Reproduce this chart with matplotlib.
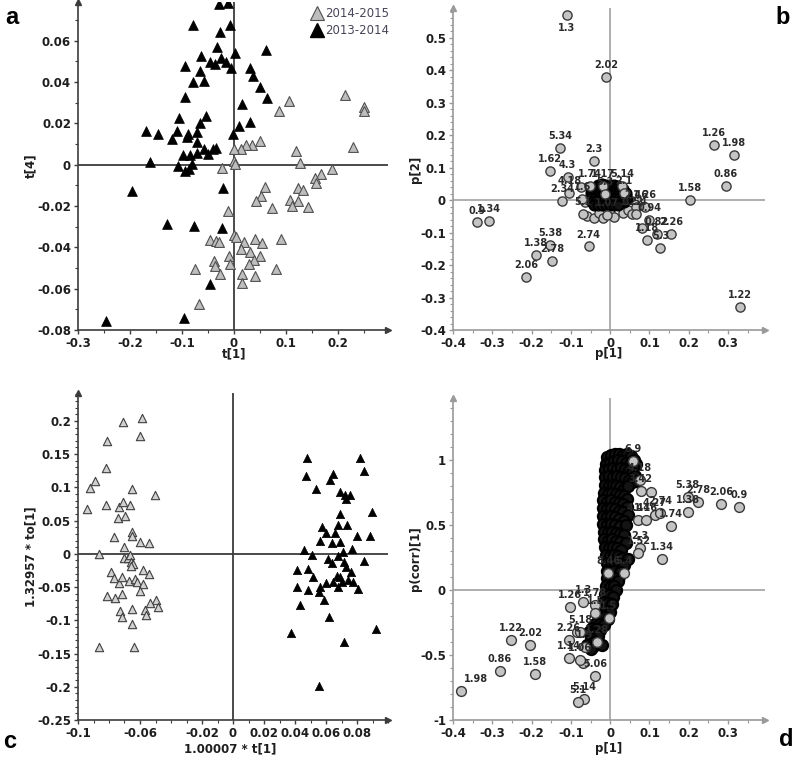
import numpy as np
import matplotlib.pyplot as plt
from matplotlib.ticker import MultipleLocator
from matplotlib.lines import Line2D

W, H = 795, 757

# ---------------- panel a : t[1] vs t[4] scores ----------------
a_black = [(-0.0287, 0.0777), (-0.0108, 0.0782), (-0.0798, 0.0676), (-0.0262, 0.0640),
           (-0.0070, 0.0676), (-0.0325, 0.0571), (-0.0644, 0.0528), (-0.0242, 0.0515),
           (-0.0453, 0.0499), (-0.0370, 0.0488), (-0.0147, 0.0496), (0.0013, 0.0541),
           (-0.0064, 0.0468), (0.0619, 0.0555), (-0.0938, 0.0475), (-0.0657, 0.0451),
           (-0.0568, 0.0407), (-0.0798, 0.0399), (0.0313, 0.0467), (0.0364, 0.0431),
           (0.0491, 0.0375), (0.0632, 0.0322), (-0.0938, 0.0327), (0.0153, 0.0294),
           (-0.1059, 0.0225), (-0.0542, 0.0235), (-0.0657, 0.0203), (0.0089, 0.0185),
           (0.0313, 0.0206), (-0.1697, 0.0163), (-0.1461, 0.0148), (-0.1104, 0.0161),
           (-0.1193, 0.0124), (-0.0880, 0.0150), (-0.0900, 0.0134), (-0.0708, 0.0158),
           (-0.0721, 0.0109), (-0.0568, 0.0074), (-0.0402, 0.0077), (-0.0504, 0.0053),
           (-0.0351, 0.0080), (-0.0019, 0.0146), (-0.0989, 0.0045), (-0.0849, 0.0045),
           (-0.0721, 0.0056), (-0.1608, 0.0013), (-0.1085, -0.0008), (-0.0944, -0.0032),
           (-0.0861, -0.0019), (-0.0817, 0.0002), (-0.1971, -0.0129), (-0.0211, -0.0111),
           (-0.1282, -0.0286), (-0.0766, -0.0296), (-0.0230, -0.0306), (-0.0459, -0.0576),
           (-0.2469, -0.0755), (-0.0970, -0.0743)]
a_gray = [(0.2131, 0.0338), (0.2495, 0.0278), (0.2495, 0.0262), (0.1065, 0.0306),
          (0.0861, 0.0261), (0.2278, 0.0084), (0.0491, 0.0113), (0.0345, 0.0093),
          (0.0236, 0.0093), (0.0134, 0.0077), (0.0000, 0.0077), (0.1187, 0.0064),
          (0.1276, 0.0010), (0.0000, 0.0018), (0.0019, 0.0002), (-0.0223, -0.0016),
          (0.1882, -0.0023), (0.1672, -0.0043), (0.1557, -0.0063), (0.1582, -0.0088),
          (0.0593, -0.0108), (0.1225, -0.0111), (0.1333, -0.0121), (0.0517, -0.0151),
          (0.0421, -0.0174), (0.1085, -0.0172), (0.1238, -0.0175), (0.1117, -0.0200),
          (0.1416, -0.0204), (0.0727, -0.0208), (-0.0108, -0.0222), (0.0000, -0.0338),
          (0.0045, -0.0348), (-0.0453, -0.0365), (-0.0351, -0.0370), (-0.0293, -0.0375),
          (0.0185, -0.0373), (0.0408, -0.0360), (0.0542, -0.0381), (0.0906, -0.0360),
          (0.0128, -0.0409), (0.0300, -0.0422), (0.0491, -0.0442), (-0.0096, -0.0442),
          (-0.0383, -0.0465), (0.0376, -0.0463), (0.0281, -0.0481), (-0.0070, -0.0481),
          (-0.0370, -0.0491), (-0.0759, -0.0504), (-0.0274, -0.0528), (0.0798, -0.0505),
          (0.0153, -0.0528), (0.0402, -0.0539), (0.0153, -0.0571), (-0.0670, -0.0676)]
a_xticks = [-0.3, -0.2, -0.1, 0, 0.1, 0.2]
a_xlabels = ['-0.3', '-0.2', '-0.1', '0', '0.1', '0.2']
a_yticks = [-0.08, -0.06, -0.04, -0.02, 0, 0.02, 0.04, 0.06]
a_ylabels = ['-0.08', '-0.06', '-0.04', '-0.02', '0', '0.02', '0.04', '0.06']

# ---------------- panel b : p[1] vs p[2] loadings ----------------
b_labeled = [(-0.110, 0.568, '1.3'), (-0.011, 0.380, '2.02'), (-0.127, 0.160, '5.34'),
             (-0.0415, 0.119, '2.3'), (-0.153, 0.089, '1.62'), (-0.108, 0.072, '4.3'),
             (-0.104, 0.0205, '4.18'), (-0.123, -0.004, '2.34'), (0.264, 0.170, '1.26'),
             (0.314, 0.139, '1.98'), (0.294, 0.044, '0.86'), (0.2025, -0.001, '1.58'),
             (-0.339, -0.069, '0.9'), (-0.308, -0.063, '1.34'), (-0.152, -0.137, '5.38'),
             (-0.189, -0.168, '1.38'), (-0.148, -0.187, '2.78'), (-0.2136, -0.237, '2.06'),
             (-0.055, -0.143, '2.74'), (0.331, -0.329, '1.22'),
             (-0.051, 0.043, '1.74'), (-0.018, 0.043, '1.17'), (0.0305, 0.043, '5.14'),
             (0.036, 0.0215, '2.1'), (-0.0127, 0.0185, '5.3'), (-0.071, 0.003, '1.6'),
             (-0.0687, -0.043, '5.1'), (-0.0076, -0.046, '1.07'), (0.066, -0.0215, '2.46'),
             (0.089, -0.0215, '1.26'), (0.056, -0.043, '1.22'), (0.065, -0.043, '1.54'),
             (0.100, -0.062, '0.94'), (0.118, -0.105, '0.82'), (0.155, -0.105, '2.26'),
             (0.093, -0.123, '1.18'), (0.128, -0.148, '5.3')]
b_plain = [(-0.059, -0.048), (-0.042, -0.056), (-0.028, -0.041), (-0.017, -0.056),
           (0.000, -0.041), (0.010, -0.053), (0.032, -0.041), (-0.064, -0.005),
           (0.081, -0.085), (0.045, -0.030), (-0.075, 0.041)]
b_blob = [(-0.03, 0.045), (-0.02, 0.048), (-0.01, 0.046), (0.0, 0.047), (0.01, 0.045), (0.02, 0.044),
          (-0.045, 0.035), (-0.035, 0.036), (-0.025, 0.035), (-0.015, 0.036), (-0.005, 0.035),
          (0.005, 0.036), (0.015, 0.035), (0.025, 0.034), (0.033, 0.033),
          (-0.05, 0.025), (-0.04, 0.026), (-0.03, 0.025), (-0.02, 0.026), (-0.01, 0.025),
          (0.0, 0.026), (0.01, 0.025), (0.02, 0.026), (0.03, 0.024), (0.04, 0.023),
          (-0.05, 0.015), (-0.04, 0.016), (-0.03, 0.015), (-0.02, 0.016), (-0.01, 0.015),
          (0.0, 0.016), (0.01, 0.015), (0.02, 0.016), (0.03, 0.015), (0.04, 0.014),
          (-0.048, 0.005), (-0.038, 0.006), (-0.028, 0.005), (-0.018, 0.006), (-0.008, 0.005),
          (0.002, 0.006), (0.012, 0.005), (0.022, 0.006), (0.032, 0.005), (0.042, 0.004),
          (-0.045, -0.005), (-0.035, -0.004), (-0.025, -0.005), (-0.015, -0.004), (-0.005, -0.005),
          (0.005, -0.004), (0.015, -0.005), (0.025, -0.004), (0.035, -0.006),
          (-0.04, -0.015), (-0.03, -0.014), (-0.02, -0.016), (-0.01, -0.015), (0.0, -0.016),
          (0.01, -0.015), (0.02, -0.014)]
b_xticks = [-0.4, -0.3, -0.2, -0.1, 0, 0.1, 0.2, 0.3]
b_xlabels = ['-0.4', '-0.3', '-0.2', '-0.1', '0', '0.1', '0.2', '0.3']
b_yticks = [-0.4, -0.3, -0.2, -0.1, 0, 0.1, 0.2, 0.3, 0.4, 0.5]
b_ylabels = ['-0.4', '-0.3', '-0.2', '-0.1', '0', '0.1', '0.2', '0.3', '0.4', '0.5']

# ---------------- panel c : OPLS-DA scores ----------------
c_gray = [(-0.0708, 0.199), (-0.0586, 0.205), (-0.0597, 0.177), (-0.0811, 0.170),
          (-0.0822, 0.129), (-0.0891, 0.109), (-0.0923, 0.099), (-0.0650, 0.098),
          (-0.0504, 0.088), (-0.0940, 0.068), (-0.0822, 0.074), (-0.0736, 0.071),
          (-0.0708, 0.078), (-0.0667, 0.073), (-0.0740, 0.054), (-0.0697, 0.057),
          (-0.0768, 0.025), (-0.0650, 0.033), (-0.0650, 0.027), (-0.0539, 0.016),
          (-0.0597, 0.018), (-0.0865, -0.0005), (-0.0702, 0.0096), (-0.0702, -0.0065),
          (-0.0676, -0.0065), (-0.0663, -0.0015), (-0.0659, -0.0116), (-0.0646, -0.0146),
          (-0.0661, -0.0176), (-0.0790, -0.0267), (-0.0768, -0.0368), (-0.0582, -0.0242),
          (-0.0543, -0.0302), (-0.0736, -0.0443), (-0.0715, -0.0343), (-0.0672, -0.0408),
          (-0.0633, -0.0383), (-0.0620, -0.0428), (-0.0582, -0.0453), (-0.0603, -0.0554),
          (-0.0811, -0.0630), (-0.0762, -0.0660), (-0.0715, -0.0605), (-0.0496, -0.0700),
          (-0.0485, -0.0796), (-0.0536, -0.0736), (-0.0650, -0.0831), (-0.0730, -0.0856),
          (-0.0719, -0.0957), (-0.0569, -0.0851), (-0.0560, -0.0922), (-0.0650, -0.1053),
          (-0.0865, -0.1401), (-0.0637, -0.1406)]
c_black = [(0.0476, 0.1436), (0.0820, 0.1446), (0.0848, 0.1244), (0.0472, 0.1169),
           (0.0644, 0.1204), (0.0627, 0.1118), (0.0536, 0.0982), (0.0691, 0.0932),
           (0.0723, 0.0892), (0.0755, 0.0892), (0.0727, 0.0826), (0.0899, 0.0630),
           (0.0691, 0.0600), (0.0680, 0.0428), (0.0734, 0.0428), (0.0573, 0.0403),
           (0.0599, 0.0312), (0.0798, 0.0262), (0.0884, 0.0262), (0.0659, 0.0312),
           (0.0560, 0.0186), (0.0637, 0.0161), (0.0691, 0.0176), (0.0459, 0.0060),
           (0.0509, -0.0015), (0.0770, 0.0071), (0.0712, 0.0025), (0.0616, -0.0076),
           (0.0680, -0.0030), (0.0637, -0.0141), (0.0719, -0.0126), (0.0845, -0.0111),
           (0.0727, -0.0191), (0.0412, -0.0242), (0.0487, -0.0227), (0.0670, -0.0327),
           (0.0519, -0.0348), (0.0691, -0.0348), (0.0762, -0.0267), (0.0702, -0.0418),
           (0.0648, -0.0428), (0.0745, -0.0393), (0.0777, -0.0423), (0.0601, -0.0443),
           (0.0562, -0.0504), (0.0676, -0.0504), (0.0809, -0.0534), (0.0487, -0.0544),
           (0.0412, -0.0504), (0.0558, -0.0579), (0.0590, -0.0695), (0.0433, -0.0771),
           (0.0620, -0.0947), (0.0376, -0.1189), (0.0923, -0.1134), (0.0717, -0.1325),
           (0.0552, -0.1995)]
c_xticks = [-0.1, -0.06, -0.02, 0, 0.02, 0.04, 0.06, 0.08]
c_xlabels = ['-0.1', '-0.06', '-0.02', '0', '0.02', '0.04', '0.06', '0.08']
c_yticks = [-0.25, -0.2, -0.15, -0.1, -0.05, 0, 0.05, 0.1, 0.15, 0.2]
c_ylabels = ['-0.25', '-0.2', '-0.15', '-0.1', '-0.05', '0', '0.05', '0.1', '0.15', '0.2']

# ---------------- panel d : S-plot ----------------
d_labeled = [(-0.380, -0.774, '1.98'), (-0.281, -0.623, '0.86'), (-0.252, -0.387, '1.22'),
             (-0.204, -0.423, '2.02'), (-0.191, -0.649, '1.58'), (-0.102, -0.128, '1.26'),
             (-0.068, -0.092, '1.3'), (-0.106, -0.385, '2.26'), (-0.106, -0.521, '1.14'),
             (-0.078, -0.538, '1.06'), (-0.038, -0.659, '5.06'), (-0.066, -0.841, '5.14'),
             (-0.082, -0.859, '5.1'), (0.197, 0.713, '5.38'), (0.2246, 0.679, '2.78'),
             (0.282, 0.664, '2.06'), (0.327, 0.636, '0.9'), (0.197, 0.603, '1.38'),
             (0.154, 0.492, '1.74'), (0.131, 0.238, '1.34'),
             (0.059, 0.99, '6.9'), (0.076, 0.844, '4.18'), (0.078, 0.76, '3.42'),
             (0.114, 0.577, '4.27'), (0.127, 0.59, '2.74'), (0.072, 0.54, '4.44'),
             (0.091, 0.538, '1.16'), (0.076, 0.321, '2.3'), (0.072, 0.282, '1.52'),
             (-0.005, 0.13, '8.46'), (0.034, 0.133, '5.4'), (-0.038, -0.118, '1.78'),
             (-0.038, -0.177, '1.5'), (-0.004, -0.218, '1.5'), (-0.076, -0.323, '5.18'),
             (-0.034, -0.403, '1.28'), (-0.064, -0.438, '1.9')]
d_plain = [(0.103, 0.751), (0.025, 0.103), (-0.020, -0.426), (-0.051, -0.321),
           (-0.042, -0.436), (-0.085, -0.32), (-0.068, -0.564), (0.01, 0.0)]
d_blob = [(-0.008, 1.02), (0.002, 1.04), (0.012, 1.05), (0.022, 1.05), (0.032, 1.04),
          (0.042, 1.05), (0.052, 1.03), (0.060, 1.0), (0.066, 0.97), (-0.010, 0.97),
          (0.0, 0.98), (0.010, 0.99), (0.020, 1.0), (0.030, 0.99), (0.040, 0.98),
          (0.050, 0.97), (0.058, 0.95), (-0.012, 0.92), (-0.002, 0.93), (0.008, 0.94),
          (0.018, 0.93), (0.028, 0.94), (0.038, 0.93), (0.048, 0.92), (0.056, 0.90),
          (0.064, 0.88), (-0.013, 0.87), (-0.003, 0.88), (0.007, 0.87), (0.017, 0.88),
          (0.027, 0.87), (0.037, 0.86), (0.047, 0.85), (0.055, 0.83), (0.066, 0.84),
          (-0.014, 0.81), (-0.004, 0.80), (0.006, 0.81), (0.016, 0.80), (0.026, 0.79),
          (0.036, 0.78), (0.045, 0.80), (-0.016, 0.75), (-0.006, 0.74), (0.004, 0.75),
          (0.014, 0.74), (0.024, 0.73), (0.034, 0.72), (0.044, 0.70), (-0.017, 0.69),
          (-0.007, 0.68), (0.003, 0.69), (0.013, 0.68), (0.023, 0.67), (0.033, 0.66),
          (0.042, 0.64), (-0.018, 0.63), (-0.008, 0.62), (0.002, 0.63), (0.012, 0.62),
          (0.022, 0.61), (0.032, 0.60), (0.045, 0.58), (-0.018, 0.57), (-0.008, 0.56),
          (0.002, 0.57), (0.012, 0.56), (0.022, 0.55), (0.034, 0.53), (-0.017, 0.51),
          (-0.007, 0.50), (0.003, 0.51), (0.013, 0.50), (0.024, 0.49), (0.040, 0.50),
          (-0.016, 0.45), (-0.006, 0.44), (0.004, 0.45), (0.014, 0.44), (0.025, 0.43),
          (0.036, 0.42), (-0.015, 0.39), (-0.005, 0.38), (0.005, 0.39), (0.015, 0.38),
          (0.026, 0.37), (0.040, 0.36), (-0.013, 0.33), (-0.003, 0.32), (0.007, 0.33),
          (0.017, 0.32), (0.028, 0.31), (-0.010, 0.27), (0.0, 0.26), (0.010, 0.27),
          (0.020, 0.26), (0.030, 0.25), (0.045, 0.24), (-0.008, 0.21), (0.002, 0.20),
          (0.012, 0.21), (0.022, 0.20), (0.035, 0.19), (-0.007, 0.15), (0.003, 0.14),
          (0.013, 0.15), (0.025, 0.14), (-0.008, 0.09), (0.002, 0.08), (0.012, 0.09),
          (0.020, 0.07), (-0.010, 0.03), (0.0, 0.02), (0.010, 0.03), (0.015, 0.0),
          (-0.012, -0.03), (-0.002, -0.04), (0.008, -0.05), (-0.015, -0.09), (-0.005, -0.10),
          (0.005, -0.11), (-0.020, -0.15), (-0.010, -0.16), (0.0, -0.17), (-0.025, -0.20),
          (-0.015, -0.21), (-0.005, -0.22), (-0.035, -0.25), (-0.025, -0.26), (-0.015, -0.27),
          (-0.045, -0.29), (-0.035, -0.30), (-0.025, -0.31), (-0.055, -0.32), (-0.040, -0.34),
          (-0.030, -0.35), (-0.050, -0.38), (-0.040, -0.40), (-0.058, -0.42), (-0.045, -0.44),
          (-0.020, -0.42), (-0.050, -0.45)]
d_xticks = [-0.4, -0.3, -0.2, -0.1, 0, 0.1, 0.2, 0.3]
d_xlabels = ['-0.4', '-0.3', '-0.2', '-0.1', '0', '0.1', '0.2', '0.3']
d_yticks = [-1, -0.5, 0, 0.5, 1]
d_ylabels = ['-1', '-0.5', '0', '0.5', '1']

TXT = '#1e1e1e'


def add_axes_px(left, top, right, bottom):
    return fig.add_axes([left / W, 1 - bottom / H, (right - left) / W, (bottom - top) / H])


def style(ax, col, zcol, xt, xl, yt, yl, xmin, ymin):
    for s in ['top', 'right']:
        ax.spines[s].set_visible(False)
    for s in ['left', 'bottom']:
        ax.spines[s].set_color(col)
        ax.spines[s].set_linewidth(1.2)
    ax.axhline(0, color=zcol, lw=1.3, zorder=1)
    ax.axvline(0, color=zcol, lw=1.3, zorder=1)
    ax.set_xticks(xt)
    ax.set_xticklabels(xl)
    ax.set_yticks(yt)
    ax.set_yticklabels(yl)
    ax.xaxis.set_minor_locator(MultipleLocator(xmin))
    ax.yaxis.set_minor_locator(MultipleLocator(ymin))
    ax.tick_params(which='major', length=3, width=1, color=col, labelsize=8.5,
                   labelcolor=TXT, pad=2)
    ax.tick_params(which='minor', length=2, width=0.8, color=col)
    for lab in ax.get_xticklabels() + ax.get_yticklabels():
        lab.set_fontweight('bold')
    ax.plot(1, 0, '>', transform=ax.transAxes, clip_on=False, ms=5, color=col, zorder=5)
    ax.plot(0, 1, '^', transform=ax.transAxes, clip_on=False, ms=5, color=col, zorder=5)
    ax.set_facecolor('none')


def xy(pts):
    arr = np.array([(p[0], p[1]) for p in pts])
    return arr[:, 0], arr[:, 1]


fig = plt.figure(figsize=(W / 100, H / 100), dpi=100)

# ---- a
ax = add_axes_px(78, 2, 388, 330)
ax.set_xlim(-0.3, 0.296)
ax.set_ylim(-0.08, 0.0787)
style(ax, '#3c3c3c', '#3c3c3c', a_xticks, a_xlabels, a_yticks, a_ylabels, 0.05, 0.01)
gx, gy = xy(a_gray)
bx, by = xy(a_black)
ax.scatter(gx, gy, marker='^', s=50, c='#bebebe', edgecolors='#505050', linewidths=0.8, zorder=3)
ax.scatter(bx, by, marker='^', s=50, c='black', edgecolors='black', linewidths=0.5, zorder=3)
handles = [Line2D([], [], ls='none', marker='^', ms=10, mfc='#bebebe', mec='#505050', mew=0.8),
           Line2D([], [], ls='none', marker='^', ms=10, mfc='black', mec='black')]
leg = ax.legend(handles, ['2014-2015', '2013-2014'], loc='upper right',
                bbox_to_anchor=(1.02, 1.0), frameon=False, handlelength=1.0,
                handletextpad=0.25, labelspacing=0.35, borderaxespad=0,
                prop={'size': 8.5})
for t in leg.get_texts():
    t.set_color('#4a4458')
ax.set_xlabel('t[1]', fontsize=8.5, fontweight='bold', color=TXT)
ax.set_ylabel('t[4]', fontsize=8.5, fontweight='bold', color=TXT)
ax.xaxis.set_label_coords(0.503, -0.053)
ax.yaxis.set_label_coords(-0.13, 0.5)

# ---- b
ax = add_axes_px(453, 8, 765, 330)
ax.set_xlim(-0.4, 0.394)
ax.set_ylim(-0.4, 0.591)
style(ax, '#9a9a9a', '#a8a8a8', b_xticks, b_xlabels, b_yticks, b_ylabels, 0.05, 0.02)
px_, py_ = xy(b_plain)
ax.scatter(px_, py_, s=44, c='#c4c4c4', edgecolors='#3a3a3a', linewidths=1.0, zorder=3)
qx, qy = xy(b_blob)
ax.scatter(qx, qy, s=52, c='#141414', edgecolors='black', linewidths=1.5, zorder=3)
for x, y, t in b_labeled:
    ax.scatter([x], [y], s=44, c='#c4c4c4', edgecolors='#3a3a3a', linewidths=1.0, zorder=3)
    below = t == '1.3' and y > 0.5
    ax.annotate(t, (x, y), xytext=(0, -5.5 if below else 5), textcoords='offset points',
                ha='center', va='top' if below else 'bottom', fontsize=7,
                fontweight='bold', color='#2a2a2a', zorder=4)
ax.set_xlabel('p[1]', fontsize=8.5, fontweight='bold', color=TXT)
ax.set_ylabel('p[2]', fontsize=8.5, fontweight='bold', color=TXT)
ax.xaxis.set_label_coords(0.5, -0.053)
ax.yaxis.set_label_coords(-0.1, 0.5)

# ---- c
ax = add_axes_px(78, 393, 388, 720)
ax.set_xlim(-0.1, 0.1)
ax.set_ylim(-0.25, 0.242)
style(ax, '#3c3c3c', '#3c3c3c', c_xticks, c_xlabels, c_yticks, c_ylabels, 0.01, 0.01)
gx, gy = xy(c_gray)
bx, by = xy(c_black)
ax.scatter(gx, gy, marker='^', s=36, c='#d0d0d0', edgecolors='#404040', linewidths=0.8, zorder=3)
ax.scatter(bx, by, marker='^', s=36, c='black', edgecolors='black', linewidths=0.5, zorder=3)
ax.set_xlabel('1.00007 * t[1]', fontsize=8.5, fontweight='bold', color=TXT)
ax.set_ylabel('1.32957 * to[1]', fontsize=8.5, fontweight='bold', color=TXT)
ax.xaxis.set_label_coords(0.49, -0.068)
ax.yaxis.set_label_coords(-0.13, 0.5)

# ---- d
ax = add_axes_px(453, 398, 765, 720)
ax.set_xlim(-0.4, 0.394)
ax.set_ylim(-1, 1.477)
style(ax, '#9a9a9a', '#a8a8a8', d_xticks, d_xlabels, d_yticks, d_ylabels, 0.05, 0.1)
px_, py_ = xy(d_plain)
ax.scatter(px_, py_, s=50, c='#c4c4c4', edgecolors='#3a3a3a', linewidths=1.0, zorder=3)
qx, qy = xy(d_blob)
ax.scatter(qx, qy, s=64, c='#141414', edgecolors='black', linewidths=1.6, zorder=3)
for x, y, t in d_labeled:
    ax.scatter([x], [y], s=50, c='#c4c4c4', edgecolors='#3a3a3a', linewidths=1.0, zorder=3)
    dx = 11 if t == '1.98' and x < -0.3 else 0
    ax.annotate(t, (x, y), xytext=(dx, 5), textcoords='offset points', ha='center',
                va='bottom', fontsize=7, fontweight='bold', color='#2a2a2a', zorder=4)
ax.set_xlabel('p[1]', fontsize=8.5, fontweight='bold', color=TXT)
ax.set_ylabel('p(corr)[1]', fontsize=8.5, fontweight='bold', color=TXT)
ax.xaxis.set_label_coords(0.5, -0.068)
ax.yaxis.set_label_coords(-0.1, 0.5)

# panel letters
for t, x, y in [('a', 12, 18), ('b', 783, 18), ('c', 10, 742), ('d', 786, 740)]:
    fig.text(x / W, 1 - y / H, t, fontsize=17, fontweight='bold', family='Liberation Sans',
             ha='center', va='center', color='black')

fig.savefig('out.png', dpi=100)
